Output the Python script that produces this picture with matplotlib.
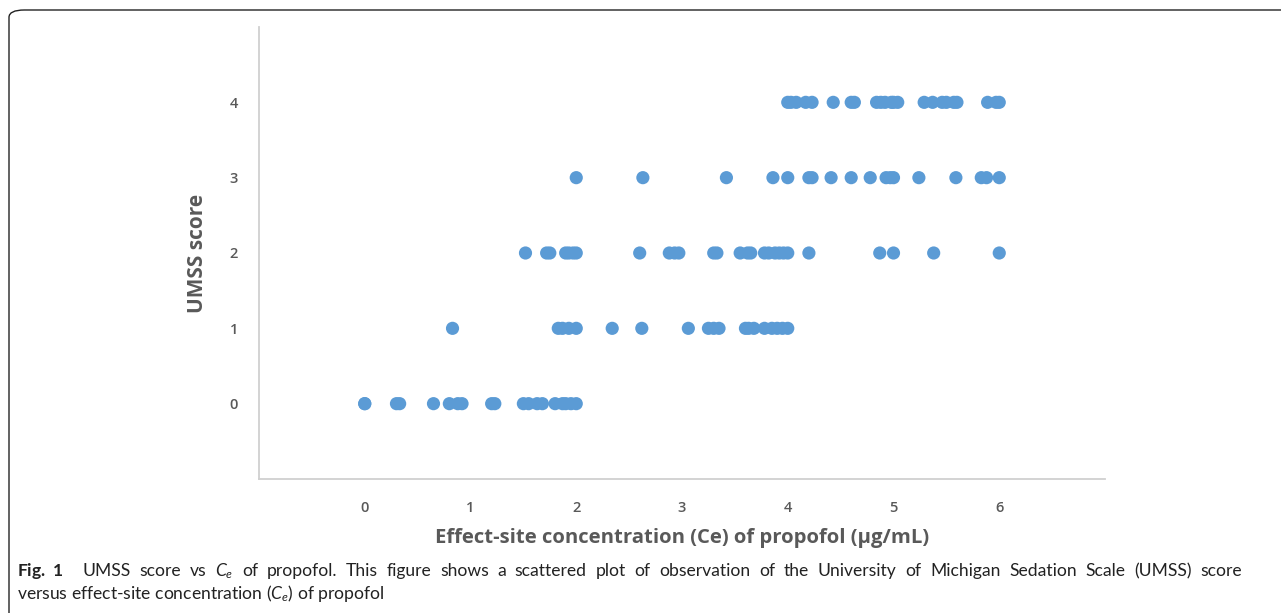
import matplotlib
matplotlib.use("Agg")
import matplotlib.pyplot as plt
from matplotlib.patches import FancyBboxPatch

plt.rcParams['font.family'] = ['Open Sans', 'DejaVu Sans']
plt.rcParams['mathtext.fontset'] = 'custom'
plt.rcParams['mathtext.rm'] = 'Lato'
plt.rcParams['mathtext.it'] = 'Lato:italic'
plt.rcParams['mathtext.bf'] = 'Lato:bold'

# Data: Ce values observed at each UMSS score
ce_umss0 = [0, 0, 0.30, 0.33, 0.65, 0.80, 0.88, 0.92, 1.20, 1.23, 1.50, 1.55,
            1.63, 1.68, 1.80, 1.87, 1.90, 1.95, 2.00]
ce_umss1 = [0.83, 1.83, 1.87, 1.93, 2.00, 2.34, 2.62, 3.06, 3.25, 3.30, 3.35,
            3.60, 3.63, 3.68, 3.78, 3.85, 3.90, 3.95, 4.00]
ce_umss2 = [1.52, 1.72, 1.75, 1.90, 1.93, 1.97, 2.00, 2.60, 2.88, 2.93, 2.97,
            3.30, 3.33, 3.55, 3.62, 3.65, 3.78, 3.82, 3.88, 3.92, 3.96, 4.00,
            4.20, 4.87, 5.00, 5.38, 6.00]
ce_umss3 = [2.00, 2.63, 3.42, 3.86, 4.00, 4.20, 4.23, 4.41, 4.60, 4.78, 4.93,
            4.97, 5.00, 5.24, 5.59, 5.83, 5.88, 6.00]
ce_umss4 = [4.00, 4.03, 4.08, 4.17, 4.23, 4.43, 4.60, 4.63, 4.84, 4.88, 4.92,
            4.98, 5.00, 5.04, 5.29, 5.37, 5.46, 5.50, 5.57, 5.60, 5.89, 5.97, 6.00]
scores = [0, 1, 2, 3, 4]
x_ticks = [0, 1, 2, 3, 4, 5, 6]

caption_line1 = [r"$\mathbf{Fig.\ 1}$", "UMSS", "score", "vs", r"$C_e$", "of", "propofol.",
                 "This", "figure", "shows", "a", "scattered", "plot", "of", "observation",
                 "of", "the", "University", "of", "Michigan", "Sedation", "Scale", "(UMSS)", "score"]
caption_line2 = r"versus effect-site concentration ($C_e$) of propofol"

W, H = 1281, 613
fig = plt.figure(figsize=(W / 100, H / 100), dpi=100)

# outer rounded frame
frame = FancyBboxPatch((9 / W, -0.2), 1.2, 1 - 10 / H + 0.2,
                       boxstyle="round,pad=0,rounding_size=0.012",
                       transform=fig.transFigure, fill=False,
                       edgecolor='#222222', linewidth=1.0)
fig.patches.append(frame)

ax = fig.add_axes([259 / W, 1 - 479 / H, (1105 - 259) / W, (479 - 27) / H])

color = '#5B9BD5'
for s, vals in zip(scores, [ce_umss0, ce_umss1, ce_umss2, ce_umss3, ce_umss4]):
    ax.scatter(vals, [s] * len(vals), s=90, color=color, edgecolors='none', zorder=3)

ax.set_xlim(-1, 7)
ax.set_ylim(-1, 5)
ax.set_xticks(x_ticks)
ax.set_yticks(scores)
ax.tick_params(length=0, labelsize=10.5, labelcolor='#595959')
for lab in ax.get_xticklabels() + ax.get_yticklabels():
    lab.set_fontweight('semibold')
ax.tick_params(axis='y', pad=15)
ax.tick_params(axis='x', pad=16)

for side in ['top', 'right']:
    ax.spines[side].set_visible(False)
for side in ['left', 'bottom']:
    ax.spines[side].set_color('#d0d0d0')
    ax.spines[side].set_linewidth(1.3)

ax.set_xlabel('Effect-site concentration (Ce) of propofol (\u03bcg/mL)',
              fontsize=14.6, fontweight='bold', color='#595959', labelpad=9)
ax.set_ylabel('UMSS score', fontsize=15, fontweight='bold', color='#595959',
              labelpad=16)

# justified first caption line
cap_fs = 12.6
renderer = fig.canvas.get_renderer()
x0, x1 = 17, 1242
texts = []
for wtok in caption_line1:
    t = fig.text(0, 1 - 576 / H, wtok, fontsize=cap_fs, color='#222222',
                 va='baseline', family='Lato')
    texts.append(t)
widths = [t.get_window_extent(renderer).width for t in texts]
gap_units = [2.2] + [1.0] * (len(texts) - 2)
gap = (x1 - x0 - sum(widths)) / sum(gap_units)
xpos = x0
for i, t in enumerate(texts):
    t.set_x(xpos / W)
    if i < len(gap_units):
        xpos += widths[i] + gap * gap_units[i]

fig.text(x0 / W, 1 - 599 / H, caption_line2, fontsize=cap_fs, color='#222222',
         va='baseline', family='Lato')

fig.savefig('out.png', dpi=100)
